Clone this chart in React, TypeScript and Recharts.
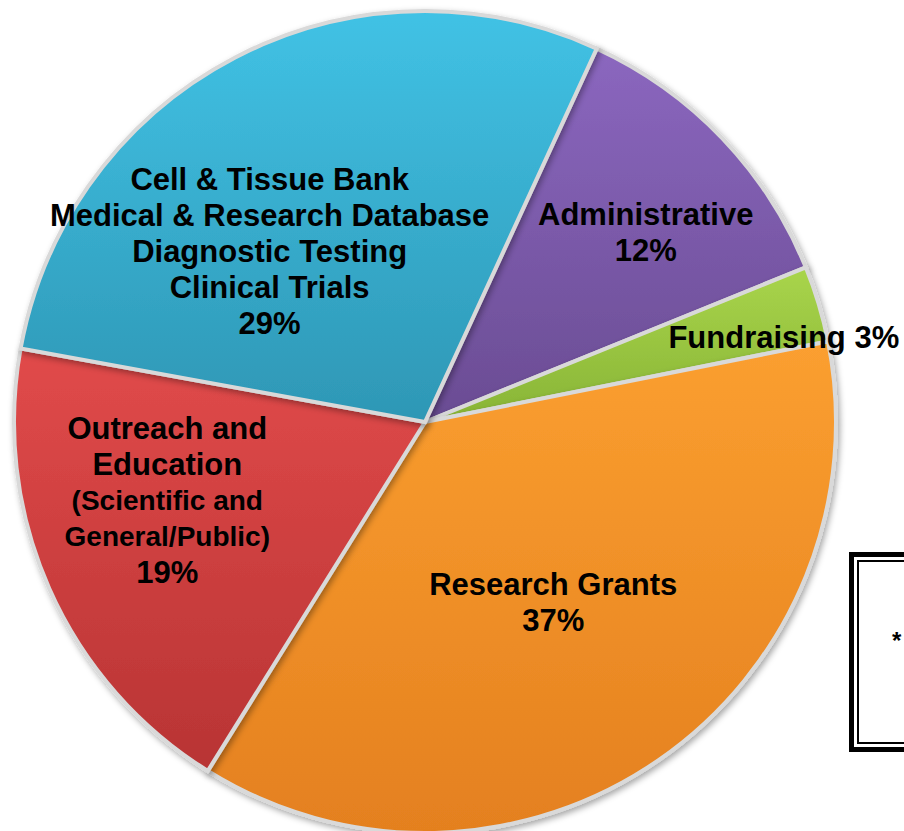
import React from 'react';
import { PieChart, Pie, Cell } from 'recharts';

const categories = [
  'Administrative',
  'Fundraising',
  'Research Grants',
  'Outreach and Education (Scientific and General/Public)',
  'Cell & Tissue Bank, Medical & Research Database, Diagnostic Testing, Clinical Trials',
];
const shares = [12, 3, 37, 19, 29];

// label lines per slice (the percent is added as the last line)
const labelLines = [
  ['Administrative'],
  ['Fundraising'],
  ['Research Grants'],
  ['Outreach and', 'Education', '(Scientific and', 'General/Public)'],
  ['Cell & Tissue Bank', 'Medical & Research Database', 'Diagnostic Testing', 'Clinical Trials'],
];

const data = categories.map((name, i) => ({ name, value: shares[i] }));

// colours: [light, dark]
const colors = [
  ['#8b67bf', '#6a4c93'],
  ['#a9d54b', '#88b436'],
  ['#fb9f30', '#e4801f'],
  ['#e14a4a', '#b83434'],
  ['#41c2e5', '#2e97b5'],
];

// label anchor offsets, in units of the radius
const labelPos = [
  [0.537, -0.463],
  [0.873, -0.207],
  [0.312, 0.439],
  [-0.627, 0.19],
  [-0.378, -0.415],
];

const LINE = 36;

const renderLabel = (props: any) => {
  const { cx, cy, outerRadius, index, value } = props;
  const [fx, fy] = labelPos[index];
  const x = cx + fx * outerRadius;
  const y = cy + fy * outerRadius;
  const inline = index === 1;
  const lines = inline
    ? [`${labelLines[index][0]} ${value}%`]
    : [...labelLines[index], `${value}%`];
  const top = y - ((lines.length - 1) * LINE) / 2;
  return (
    <text
      key={`lbl-${index}`}
      x={x}
      textAnchor="middle"
      dominantBaseline="central"
      fontFamily="'Liberation Sans', Arial, sans-serif"
      fontWeight="bold"
      fill="#000"
    >
      {lines.map((ln, i) => {
        const small = index === 3 && (i === 2 || i === 3);
        return (
          <tspan key={i} x={x} y={top + i * LINE} fontSize={small ? 28 : 31}>
            {ln}
          </tspan>
        );
      })}
    </text>
  );
};

export default function App() {
  return (
    <div style={{ position: 'absolute', left: 0, top: 0, width: 904, height: 831, background: '#fff', overflow: 'hidden' }}>
      <PieChart width={904} height={831} margin={{ top: 0, right: 0, bottom: 0, left: 0 }}>
        <defs>
          {colors.map((c, i) => (
            <linearGradient key={i} id={`g${i}`} x1="0" y1="0" x2="0" y2="1">
              <stop offset="0%" stopColor={c[0]} />
              <stop offset="100%" stopColor={c[1]} />
            </linearGradient>
          ))}
          <filter id="shadow" x="-10%" y="-10%" width="120%" height="120%">
            <feDropShadow dx="2" dy="3" stdDeviation="3" floodColor="#000" floodOpacity="0.35" />
          </filter>
        </defs>
        <Pie
          data={data}
          dataKey="value"
          nameKey="name"
          cx={425}
          cy={422}
          outerRadius={411}
          startAngle={65.3}
          endAngle={65.3 - 360}
          stroke="#d9d9d9"
          strokeWidth={4}
          labelLine={false}
          label={renderLabel}
          isAnimationActive={false}
          style={{ filter: 'url(#shadow)' }}
        >
          {data.map((d, i) => (
            <Cell key={d.name} fill={`url(#g${i})`} />
          ))}
        </Pie>
      </PieChart>
      <div
        style={{
          position: 'absolute',
          left: 849,
          top: 552,
          width: 80,
          height: 200,
          border: '5px solid #000',
          boxSizing: 'border-box',
          background: '#fff',
        }}
      >
        <div
          style={{
            position: 'absolute',
            left: 3,
            top: 3,
            right: 3,
            bottom: 3,
            border: '2px solid #000',
          }}
        />
        <div
          style={{
            position: 'absolute',
            left: 38,
            top: 70,
            fontFamily: "'Liberation Sans', Arial, sans-serif",
            fontWeight: 'bold',
            fontSize: 24,
          }}
        >
          *
        </div>
      </div>
    </div>
  );
}
